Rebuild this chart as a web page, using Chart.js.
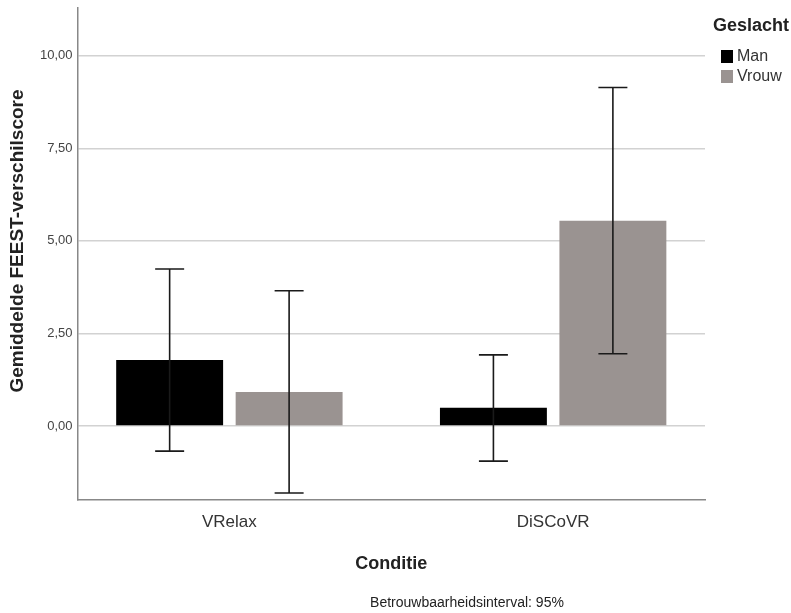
<!DOCTYPE html>
<html>
<head>
<meta charset="utf-8">
<script src="https://cdn.jsdelivr.net/npm/chart.js@4"></script>
<style>
  body { margin: 0; background: #fff; }
  #wrap { width: 791px; height: 613px; }
</style>
</head>
<body>
<div id="wrap"><canvas id="chart" width="791" height="613"></canvas></div>
<script>
const condities = ["VRelax", "DiSCoVR"];
const manMean = [1.78, 0.49];
const manLow = [-0.68, -0.95];
const manHigh = [4.24, 1.92];
const vrouwMean = [0.92, 5.54];
const vrouwLow = [-1.81, 1.95];
const vrouwHigh = [3.65, 9.14];
const yTicks = [0, 2.5, 5, 7.5, 10];

const FONT = "'Liberation Sans', Arial, sans-serif";

// 95% betrouwbaarheidsinterval als foutbalk
const errorBars = {
  id: "errorBars",
  afterDatasetsDraw(chart) {
    const ctx = chart.ctx;
    const y = chart.scales.y;
    ctx.save();
    ctx.strokeStyle = "#1a1a1a";
    ctx.lineWidth = 1.6;
    chart.data.datasets.forEach((ds, i) => {
      const meta = chart.getDatasetMeta(i);
      meta.data.forEach((bar, j) => {
        const x = bar.x;
        const top = y.getPixelForValue(ds.high[j]);
        const bot = y.getPixelForValue(ds.low[j]);
        ctx.beginPath();
        ctx.moveTo(x, top); ctx.lineTo(x, bot);
        ctx.moveTo(x - 14.5, top); ctx.lineTo(x + 14.5, top);
        ctx.moveTo(x - 14.5, bot); ctx.lineTo(x + 14.5, bot);
        ctx.stroke();
      });
    });
    ctx.restore();
  }
};

// y-titel, legenda rechtsboven + voetnoot
const extras = {
  id: "extras",
  afterDraw(chart) {
    const ctx = chart.ctx;
    ctx.save();
    ctx.textBaseline = "middle";
    ctx.fillStyle = "#222";
    ctx.font = "bold 18px " + FONT;
    ctx.fillText("Geslacht", 713, 26);
    ctx.font = "16px " + FONT;
    chart.data.datasets.forEach((ds, i) => {
      const top = 50 + i * 20;
      ctx.fillStyle = ds.backgroundColor;
      ctx.fillRect(721, top, 12, 13);
      ctx.fillStyle = "#333";
      ctx.fillText(ds.label, 737, top + 7);
    });
    ctx.font = "14px " + FONT;
    ctx.fillStyle = "#222";
    ctx.textAlign = "center";
    ctx.fillText("Betrouwbaarheidsinterval: 95%", 467, 603);

    ctx.translate(18, 241);
    ctx.rotate(-Math.PI / 2);
    ctx.font = "bold 19px " + FONT;
    ctx.fillText("Gemiddelde FEEST-verschilscore", 0, 0);
    ctx.restore();
  }
};

new Chart(document.getElementById("chart"), {
  type: "bar",
  data: {
    labels: condities,
    datasets: [
      { label: "Man", data: manMean, low: manLow, high: manHigh, backgroundColor: "#000000" },
      { label: "Vrouw", data: vrouwMean, low: vrouwLow, high: vrouwHigh, backgroundColor: "#9a9391" }
    ]
  },
  options: {
    responsive: false,
    animation: false,
    categoryPercentage: 0.738,
    barPercentage: 0.895,
    layout: { padding: { left: 35, top: 0, right: 86, bottom: 36 } },
    plugins: {
      tooltip: { enabled: false },
      legend: { display: false }
    },
    scales: {
      x: {
        grid: { display: false },
        border: { color: "#888", width: 1.5 },
        // groepen iets verder uit elkaar, zoals in SPSS
        afterUpdate: (scale) => { scale._startValue = -0.469; scale._valueRange = 1.938; },
        ticks: { color: "#333", padding: 4, font: { family: FONT, size: 17 } },
        title: {
          display: true,
          text: "Conditie",
          color: "#222",
          padding: { top: 17, bottom: 2 },
          font: { family: FONT, size: 18, weight: "bold" }
        }
      },
      y: {
        min: -2,
        max: 11.3,
        afterBuildTicks: (axis) => { axis.ticks = yTicks.map((v) => ({ value: v })); },
        grid: { color: "#d2d2d2", lineWidth: 1.5, drawTicks: false },
        border: { color: "#888", width: 1.5 },
        ticks: {
          color: "#444",
          padding: 5,
          font: { family: FONT, size: 13, lineHeight: 0.4 },
          callback: (v) => v.toFixed(2).replace(".", ",")
        }
      }
    }
  },
  plugins: [errorBars, extras]
});
</script>
</body>
</html>
